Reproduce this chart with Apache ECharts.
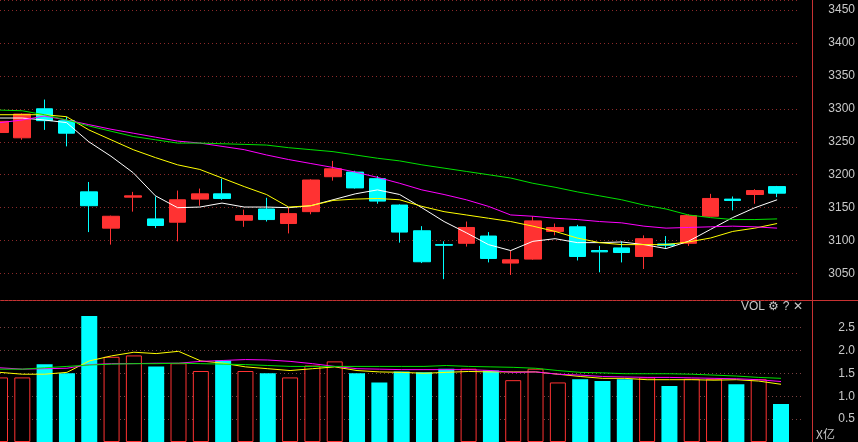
<!DOCTYPE html>
<html>
<head>
<meta charset="utf-8">
<script src="https://cdn.jsdelivr.net/npm/echarts@6/dist/echarts.min.js"></script>
<style>
  html, body { margin: 0; padding: 0; background: #000; }
  #chart { width: 858px; height: 442px; }
</style>
</head>
<body>
<div id="chart"></div>
<script>
// 36 trading days, first one only half visible; one empty slot on the right
const days = Array.from({ length: 37 }, (_, i) => 'D' + (i + 1));

// [open, close, low, high]
const kData = [
    [3264, 3281, 3260, 3285], [3256, 3292, 3253, 3293], [3300, 3282, 3268, 3314], [3282, 3263, 3243, 3288],
    [3174, 3153, 3113, 3189], [3119, 3137, 3094, 3138], [3166, 3168, 3144, 3174], [3133, 3123, 3119, 3167],
    [3128, 3162, 3099, 3176], [3163, 3171, 3153, 3179], [3171, 3164, 3162, 3194], [3131, 3138, 3121, 3147],
    [3148, 3132, 3129, 3165], [3126, 3141, 3111, 3150], [3144, 3192, 3140, 3193], [3197, 3209, 3191, 3221],
    [3204, 3180, 3179, 3206], [3194, 3160, 3156, 3198], [3154, 3113, 3097, 3155], [3115, 3068, 3066, 3122],
    [3094, 3093, 3041.63, 3099], [3096, 3120, 3091, 3129], [3107, 3073, 3067, 3113], [3066, 3071, 3048, 3085],
    [3072, 3130, 3071, 3137], [3114, 3120, 3108, 3126], [3121, 3076, 3070, 3124], [3085, 3083, 3052, 3092],
    [3089, 3082, 3067, 3099], [3076, 3103, 3057, 3108], [3095, 3093, 3089, 3107], [3096, 3138, 3092, 3140],
    [3137, 3164, 3137, 3171], [3163, 3161, 3146, 3167], [3170, 3176, 3156, 3178], [3182, 3172, 3166, 3183]
];

const ma5 = [3286, 3286, 3283, 3279, 3250, 3228, 3203, 3168, 3150, 3151, 3157, 3151, 3151, 3150, 3153, 3162, 3171, 3177,
    3170, 3150, 3129, 3112, 3094, 3085, 3099, 3103, 3097, 3097, 3098, 3094, 3088, 3099, 3117, 3135, 3150, 3162];
const ma10 = [3291, 3291, 3291, 3288, 3268, 3253, 3238, 3226, 3215, 3208, 3195, 3182, 3170, 3151, 3153, 3161, 3163, 3164,
    3162, 3152, 3144, 3139, 3134, 3129, 3122, 3114, 3104, 3097, 3094, 3094, 3094, 3098, 3104, 3114, 3119, 3126];
const ma20 = [3279, 3283, 3289, 3283, 3276, 3269, 3263, 3257, 3251, 3248, 3243, 3238, 3230, 3223, 3217, 3211, 3204, 3196,
    3187, 3177, 3170, 3162, 3152, 3139, 3137, 3134, 3132, 3129, 3127, 3122, 3119, 3120, 3121, 3122, 3121, 3119];
const ma30 = [3298, 3297, 3291, 3283, 3274, 3266, 3258, 3253, 3248, 3248, 3247, 3246, 3245, 3241, 3238, 3235, 3230, 3225,
    3221, 3215, 3210, 3205, 3200, 3195, 3187, 3181, 3174, 3168, 3162, 3154, 3148, 3139, 3135, 3132, 3132, 3133];

// volume in 亿
const vol = [1.41, 1.41, 1.70, 1.50, 2.75, 1.86, 1.89, 1.65, 1.72, 1.55, 1.78, 1.55, 1.50, 1.41, 1.67, 1.76, 1.50, 1.30,
    1.54, 1.52, 1.60, 1.60, 1.56, 1.35, 1.60, 1.30, 1.37, 1.33, 1.37, 1.41, 1.22, 1.38, 1.38, 1.26, 1.37, 0.83];
const volMa5 = [1.52, 1.48, 1.48, 1.52, 1.77, 1.88, 1.96, 1.93, 1.98, 1.77, 1.72, 1.64, 1.60, 1.56, 1.60, 1.64, 1.56, 1.53,
    1.52, 1.50, 1.52, 1.54, 1.53, 1.53, 1.53, 1.48, 1.43, 1.39, 1.39, 1.36, 1.36, 1.36, 1.35, 1.36, 1.33, 1.26];
const volMa10 = [1.62, 1.59, 1.60, 1.61, 1.69, 1.71, 1.71, 1.72, 1.72, 1.76, 1.78, 1.80, 1.79, 1.76, 1.71, 1.65, 1.60, 1.59,
    1.58, 1.58, 1.58, 1.58, 1.56, 1.52, 1.53, 1.48, 1.46, 1.43, 1.42, 1.41, 1.41, 1.40, 1.39, 1.38, 1.36, 1.32];
const volMa20 = [1.59, 1.59, 1.62, 1.65, 1.68, 1.70, 1.71, 1.71, 1.72, 1.71, 1.70, 1.69, 1.67, 1.65, 1.65, 1.65, 1.65, 1.65,
    1.65, 1.65, 1.67, 1.65, 1.64, 1.63, 1.61, 1.56, 1.52, 1.51, 1.49, 1.49, 1.49, 1.48, 1.46, 1.44, 1.41, 1.39];

const UP = '#ff3232', DOWN = '#00ffff';
const lbl = { color: '#c8c8c8', fontSize: 12, fontFamily: 'Liberation Sans, Arial' };

const volBars = vol.map((v, i) => {
    let up = kData[i][1] >= kData[i][0];
    return {
        value: v,
        itemStyle: up ? { color: '#000', borderColor: UP, borderWidth: 1 } : { color: DOWN }
    };
});

function line(name, data, color, x, y) {
    return {
        name, type: 'line', data, xAxisIndex: x, yAxisIndex: y,
        symbol: 'none', silent: true,
        lineStyle: { color, width: 1 }
    };
}

// grid ends at 805, the panel border is drawn at 812
const chart = echarts.init(document.getElementById('chart'));
chart.setOption({
    backgroundColor: '#000',
    animation: false,
    grid: [
        { left: 0, right: 53, top: 0, height: 300 },
        { left: 0, right: 53, top: 300, bottom: 0 }
    ],
    xAxis: [
        { type: 'category', data: days, gridIndex: 0, boundaryGap: false, axisLine: { show: false }, axisTick: { show: false }, axisLabel: { show: false } },
        { type: 'category', data: days, gridIndex: 1, boundaryGap: false, axisLine: { show: false }, axisTick: { show: false }, axisLabel: { show: false } }
    ],
    yAxis: [
        {
            gridIndex: 0, position: 'right', offset: 7, min: 3010, max: 3465, splitNumber: 9,
            axisLine: { show: false }, axisTick: { show: false },
            axisLabel: Object.assign({ margin: 22, showMinLabel: false, formatter: v => String(v) }, lbl),
            splitLine: { show: true, lineStyle: { color: '#8c2a2a', type: [1, 3] } }
        },
        {
            gridIndex: 1, position: 'right', offset: 7, min: 0, max: 3.1, interval: 0.5,
            axisLine: { show: false }, axisTick: { show: false },
            axisLabel: Object.assign({
                margin: 28,
                formatter: v => (v > 0 && v < 3) ? v.toFixed(1) : ''
            }, lbl),
            splitLine: {
                show: true,
                lineStyle: { color: ['transparent', '#7a4040', '#7a4040', '#7a4040', '#7a4040', '#7a4040', 'transparent'], type: [1, 3] }
            }
        }
    ],
    series: [
        {
            name: 'K', type: 'candlestick', data: kData, barWidth: 17,
            itemStyle: { color: UP, color0: DOWN, borderColor: UP, borderColor0: DOWN, borderWidth: 1 },
            markPoint: {
                symbol: 'none',
                data: [{ coord: ['D21', 3041.63], value: 3041.63 }],
                label: {
                    show: true, position: 'left', distance: 2,
                    formatter: '3041.63→', color: '#c8c8c8', fontSize: 12, fontFamily: 'Liberation Sans, Arial'
                }
            }
        },
        line('MA5', ma5, '#ffffff', 0, 0),
        line('MA10', ma10, '#ffff00', 0, 0),
        line('MA20', ma20, '#ff00ff', 0, 0),
        line('MA30', ma30, '#00e000', 0, 0),
        { name: 'VOL', type: 'bar', data: volBars, xAxisIndex: 1, yAxisIndex: 1, barWidth: 16 },
        line('VMA5', volMa5, '#ffff00', 1, 1),
        line('VMA10', volMa10, '#ff00ff', 1, 1),
        line('VMA20', volMa20, '#00e000', 1, 1)
    ],
    graphic: [
        { type: 'rect', shape: { x: 0, y: 300, width: 858, height: 1 }, style: { fill: '#c83232' } },
        { type: 'rect', shape: { x: 812, y: 0, width: 1, height: 442 }, style: { fill: '#c83232' } },
        { type: 'text', left: 741, top: 301, style: { text: 'VOL ⚙ ? ✕', fill: '#c8c8c8', fontSize: 12, fontFamily: 'Liberation Sans, Arial' } },
        { type: 'text', left: 816, top: 428, style: { text: 'X亿', fill: '#c8c8c8', fontSize: 12, fontFamily: 'Noto Sans CJK SC' } }
    ]
});
</script>
</body>
</html>
